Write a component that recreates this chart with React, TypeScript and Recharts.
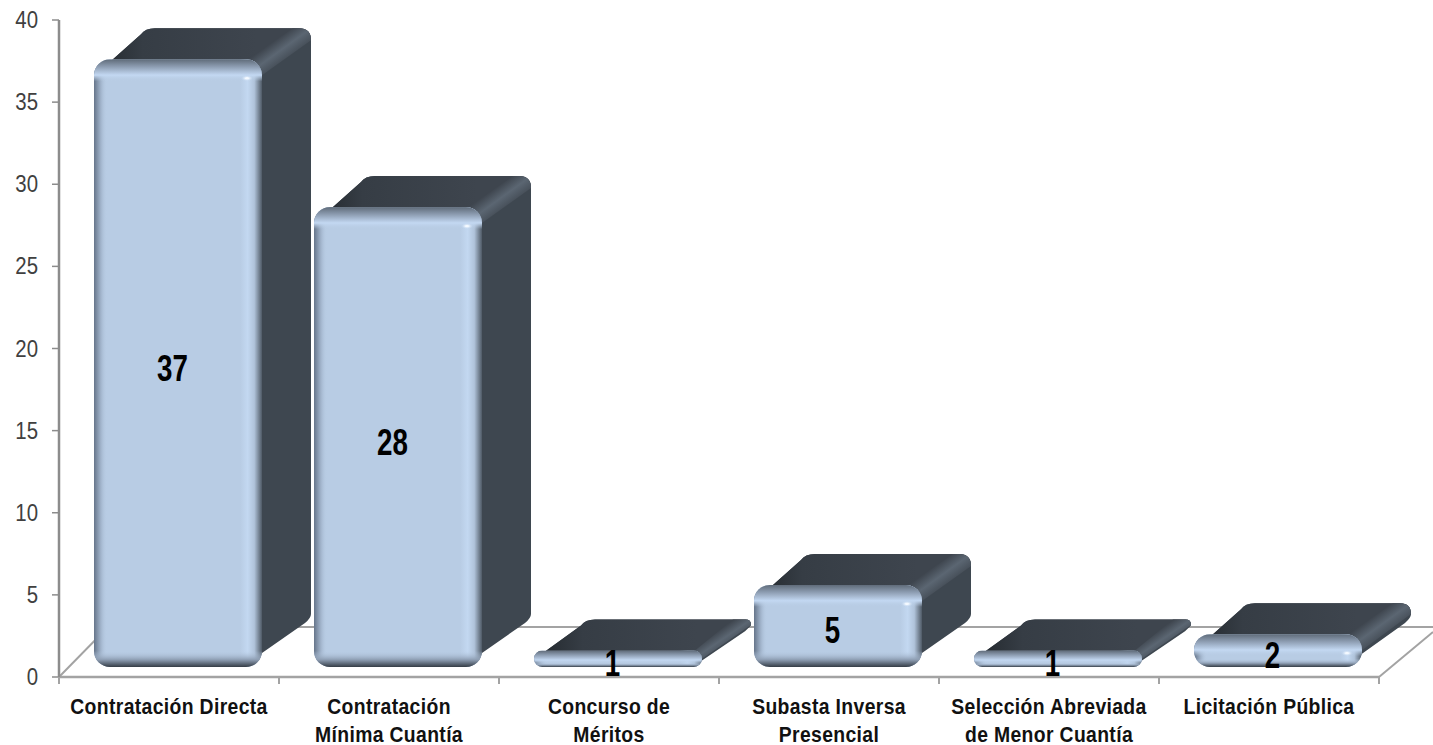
// App.tsx
import React from "react";
import { BarChart, Bar, XAxis, YAxis, LabelList } from "recharts";

const categories = [
  "Contratación Directa",
  "Contratación Mínima Cuantía",
  "Concurso de Méritos",
  "Subasta Inversa Presencial",
  "Selección Abreviada de Menor Cuantía",
  "Licitación Pública",
];
const categoryLines = [
  ["Contratación Directa"],
  ["Contratación", "Mínima Cuantía"],
  ["Concurso de", "Méritos"],
  ["Subasta Inversa", "Presencial"],
  ["Selección Abreviada", "de Menor Cuantía"],
  ["Licitación Pública"],
];
const values = [37, 28, 1, 5, 1, 2];
const yTicks = [0, 5, 10, 15, 20, 25, 30, 35, 40];

const data = categories.map((name, i) => ({ name, value: values[i] }));

// no narrow font here, so Liberation Sans gets squeezed with a scale transform
const FONT = "'Liberation Sans', Arial, sans-serif";
const AXIS_COLOR = "#a3a3a3";
const BAND = 220;
// the fake 3d box: how far the back face goes, and where the front sits on the floor
const DEPTH_X = 49;
const DEPTH_Y = 31;
const FRONT_X = 9;
const FRONT_Y = -10;

const Box3D = (props: any) => {
  const { x, y, width, height, index } = props;
  const x0 = x + FRONT_X;
  const x1 = x0 + width;
  const y0 = y + FRONT_Y;
  const y1 = y0 + height;
  const h = height;
  const r = Math.min(16, h / 2);
  const rb = Math.min(12, h / 3);
  const backTop = y0 - DEPTH_Y;
  const backBottom = y1 - DEPTH_Y;
  const bx1 = x1 + DEPTH_X;
  const bx0 = x0 + DEPTH_X;
  const clip = `front-${index}`;
  const band = Math.min(22, h * 0.8);
  const lowBand = Math.min(16, h * 0.25);
  const rearEnd = backBottom - Math.min(18, h * 0.6);
  const frontEnd = y1 - Math.min(14, h * 0.4);

  const upper = `M${x0 + 1} ${y0 + r} L${bx0 - 2} ${backTop + 6} Q${bx0 + 2} ${backTop} ${bx0 + 12} ${backTop}
    L${bx1 - rb} ${backTop} Q${bx1} ${backTop} ${bx1} ${backTop + rb}`;
  const silhouette = `${upper} L${bx1} ${Math.max(rearEnd - 4, backTop + rb)}
    Q${bx1} ${rearEnd} ${bx1 - 6} ${rearEnd + 5} L${x1} ${frontEnd} L${x1 - 8} ${y1 - 2} Z`;
  const topFace = `${upper} L${x1} ${y0 + r} L${x1 - r} ${y0 + 2} Z`;
  const rightMitre = `M${x1 - r} ${y0 + 1} L${x1} ${y0 + r} L${bx1} ${backTop + rb}
    Q${bx1} ${backTop} ${bx1 - rb} ${backTop} L${bx1 - 18} ${backTop} Z`;

  return (
    <g>
      <path d={silhouette} fill="#3e4750" />
      <path d={topFace} fill="url(#topFace)" />
      <path d={rightMitre} fill="url(#topMitre)" />
      <clipPath id={clip}>
        <rect x={x0} y={y0} width={width} height={h} rx={r} ry={r} />
      </clipPath>
      <g clipPath={`url(#${clip})`}>
        <rect x={x0} y={y0} width={width} height={h} fill="#b8cce4" />
        <rect x={x0} y={y0} width={13} height={h} fill="url(#frontLeft)" />
        <rect x={x1 - 22} y={y0} width={22} height={h} fill="url(#frontRight)" />
        <rect x={x0} y={y0} width={width} height={band} fill="url(#frontTop)" />
        <rect x={x0} y={y1 - lowBand} width={width} height={lowBand} fill="url(#frontBottom)" />
      </g>
      {h > 25 && <ellipse cx={x1 - 15} cy={y0 + 19} rx={6} ry={3} fill="url(#spot)" />}
    </g>
  );
};

const XTick = (props: any) => {
  const { x, y, payload, index } = props;
  const lines = categoryLines[index] || [payload.value];
  return (
    <g>
      <line x1={x - BAND / 2} x2={x - BAND / 2} y1={y} y2={y + 7} stroke={AXIS_COLOR} strokeWidth={2} />
      {index === categories.length - 1 && (
        <line x1={x + BAND / 2} x2={x + BAND / 2} y1={y} y2={y + 7} stroke={AXIS_COLOR} strokeWidth={2} />
      )}
      {lines.map((line: string, i: number) => (
        <text
          key={line}
          transform={`translate(${x}, ${y + 37 + i * 28}) scale(0.88, 1)`}
          textAnchor="middle"
          fontFamily={FONT}
          fontWeight="bold"
          fontSize={22}
          letterSpacing={0.4}
          fill="#111"
        >
          {line}
        </text>
      ))}
    </g>
  );
};

const YTick = (props: any) => {
  const { x, y, payload } = props;
  return (
    <text
      transform={`translate(${x}, ${y + 8}) scale(0.85, 1)`}
      textAnchor="end"
      fontFamily={FONT}
      fontSize={24}
      fill="#404040"
    >
      {payload.value}
    </text>
  );
};

const ValueLabel = (props: any) => {
  const { x, y, width, height, value } = props;
  return (
    <text
      transform={`translate(${x + width / 2 + 3.5}, ${y + height / 2 + 7.5}) scale(0.75, 1)`}
      textAnchor="middle"
      fontFamily={FONT}
      fontWeight="bold"
      fontSize={37}
      fill="#000"
    >
      {value}
    </text>
  );
};

export default function App() {
  return (
    <div style={{ position: "absolute", left: 0, top: 0 }}>
      <BarChart
        width={1433}
        height={745}
        data={data}
        margin={{ top: 20, right: 54, left: 0, bottom: 0 }}
        barSize={168}
      >
        <defs>
          <linearGradient id="topFace" x1="0" y1="0" x2="1" y2="0">
            <stop offset="0" stopColor="#22272c" />
            <stop offset="0.22" stopColor="#363d45" />
            <stop offset="0.75" stopColor="#3e454e" />
            <stop offset="1" stopColor="#3e454e" />
          </linearGradient>
          <linearGradient id="topMitre" x1="0" y1="0" x2="1" y2="1">
            <stop offset="0.35" stopColor="#3e454e" />
            <stop offset="0.5" stopColor="#5b6672" />
            <stop offset="0.62" stopColor="#49525c" />
          </linearGradient>
          <linearGradient id="frontLeft" x1="0" y1="0" x2="1" y2="0">
            <stop offset="0" stopColor="#66758a" />
            <stop offset="0.45" stopColor="#99abc2" />
            <stop offset="1" stopColor="#b8cce4" stopOpacity={0} />
          </linearGradient>
          <linearGradient id="frontRight" x1="0" y1="0" x2="1" y2="0">
            <stop offset="0" stopColor="#c3d8f1" stopOpacity={0} />
            <stop offset="0.35" stopColor="#c3d8f1" />
            <stop offset="0.65" stopColor="#b0c3da" />
            <stop offset="1" stopColor="#4f5a66" />
          </linearGradient>
          <linearGradient id="frontTop" x1="0" y1="0" x2="0" y2="1">
            <stop offset="0" stopColor="#5f6b79" />
            <stop offset="0.35" stopColor="#8f9fb4" />
            <stop offset="0.72" stopColor="#c3d8f2" />
            <stop offset="1" stopColor="#b8cce4" stopOpacity={0} />
          </linearGradient>
          <linearGradient id="frontBottom" x1="0" y1="0" x2="0" y2="1">
            <stop offset="0" stopColor="#b8cce4" stopOpacity={0} />
            <stop offset="0.55" stopColor="#8d9db2" />
            <stop offset="1" stopColor="#343c45" />
          </linearGradient>
          <radialGradient id="spot">
            <stop offset="0.25" stopColor="#f4f9ff" />
            <stop offset="1" stopColor="#c3d8f2" stopOpacity={0} />
          </radialGradient>
        </defs>
        {/* floor of the 3d plot, sits behind the bars */}
        <g stroke={AXIS_COLOR} strokeWidth={2} fill="none">
          <path d="M59 677 L108 627 L1433 627" />
          <path d="M1379 677 L1433 632" />
        </g>
        <XAxis
          dataKey="name"
          interval={0}
          height={68}
          axisLine={{ stroke: AXIS_COLOR, strokeWidth: 2.5 }}
          tickLine={false}
          tickSize={0}
          tickMargin={0}
          tick={<XTick />}
        />
        <YAxis
          width={59}
          domain={[0, 40]}
          ticks={yTicks}
          interval={0}
          axisLine={{ stroke: "#8c8c8c", strokeWidth: 2.5 }}
          tickLine={{ stroke: "#8c8c8c", strokeWidth: 1.5 }}
          tickSize={7}
          tickMargin={14}
          tick={<YTick />}
        />
        <Bar dataKey="value" shape={<Box3D />} isAnimationActive={false}>
          <LabelList dataKey="value" content={<ValueLabel />} />
        </Bar>
      </BarChart>
    </div>
  );
}
